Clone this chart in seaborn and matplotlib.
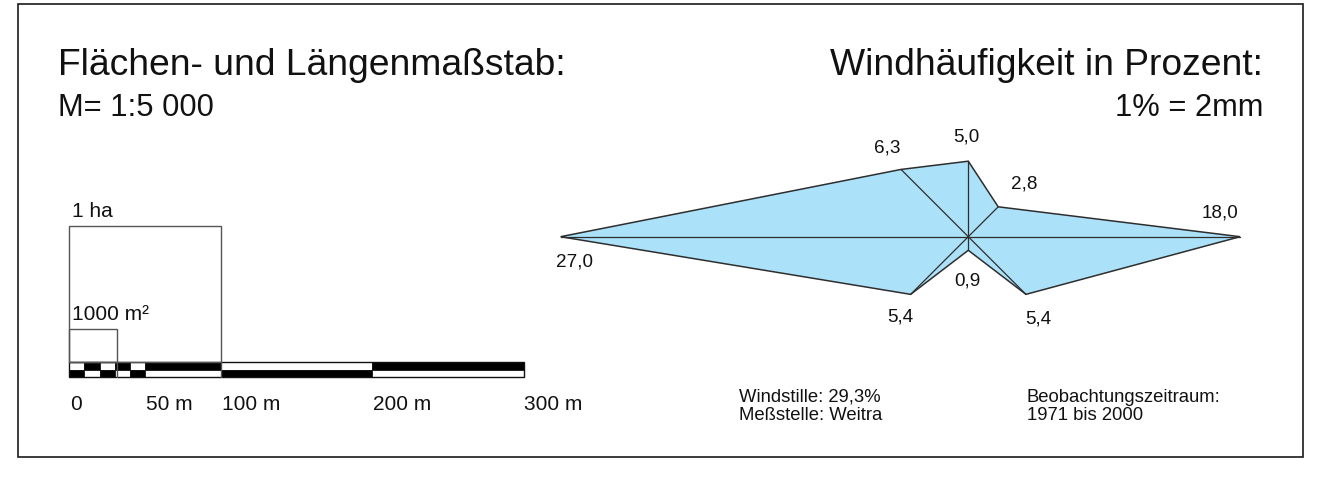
import numpy as np
import matplotlib
matplotlib.use("Agg")
import matplotlib.pyplot as plt
from matplotlib.patches import Rectangle, Polygon
import seaborn as sns
import pandas as pd

# ---------------- data ----------------
title_left = "Flächen- und Längenmaßstab:"
subtitle_left = "M= 1:5 000"
title_right = "Windhäufigkeit in Prozent:"
subtitle_right = "1% = 2mm"

# wind rose: direction (degrees, math convention) and frequency in %
wind_dirs = ["N", "NE", "E", "SE", "S", "SW", "W", "NW"]
wind_angles = [90, 45, 0, -45, -90, -135, 180, 135]
wind_values = [5.0, 2.8, 18.0, 5.4, 0.9, 5.4, 27.0, 6.3]

# scale bar (metres)
bar_edges = [0, 10, 20, 30, 40, 50, 100, 200, 300]
bar_tick_values = [0, 50, 100, 200, 300]
bar_tick_labels = ["0", "50 m", "100 m", "200 m", "300 m"]

# area boxes (width, height in metres as drawn), labels
box_labels = ["1 ha", "1000 m²"]
box_widths = [100, 31.6]
box_heights = [100, 24.3]

info_left = ["Windstille: 29,3%", "Meßstelle: Weitra"]
info_right = ["Beobachtungszeitraum:", "1971 bis 2000"]

# ---------------- style / layout ----------------
sns.set_theme(style="white")
plt.rcParams["font.family"] = ["Liberation Sans", "DejaVu Sans"]

W, H = 1337, 478
FILL = "#abe1f9"
EDGE = "#2e2e2e"
TXT = "#111111"

fig = plt.figure(figsize=(W / 100, H / 100), dpi=100)
fig.patch.set_facecolor("white")

# overlay axes in pixel coordinates
ax = fig.add_axes([0, 0, 1, 1])
ax.set_xlim(0, W)
ax.set_ylim(H, 0)
ax.axis("off")
ax.add_patch(Rectangle((17.7, 3.5), 1303.3 - 17.7, 456.7 - 3.5, fill=False,
                       edgecolor="#1a1a1a", lw=1.2))
ax.text(58, 75, title_left, fontsize=26.8, ha="left", va="baseline", color=TXT)
ax.text(58, 116, subtitle_left, fontsize=22.2, ha="left", va="baseline", color=TXT)
ax.text(1263, 75, title_right, fontsize=26.8, ha="right", va="baseline", color=TXT)
ax.text(1263, 116, subtitle_right, fontsize=22.2, ha="right", va="baseline", color=TXT)
for i, (a, b) in enumerate(zip(info_left, info_right)):
    ax.text(739, 402 + 18.5 * i, a, fontsize=13.3, ha="left", va="baseline", color=TXT)
    ax.text(1027, 402 + 18.5 * i, b, fontsize=13.3, ha="left", va="baseline", color=TXT)

# ---------------- wind rose ----------------
CX, CY, PX_PER_PCT = 968.3, 236.7, 15.1
axw = fig.add_axes([0, 0, 1, 1])
axw.set_xlim(-CX / PX_PER_PCT, (W - CX) / PX_PER_PCT)
axw.set_ylim((CY - H) / PX_PER_PCT, CY / PX_PER_PCT)
axw.axis("off")
axw.patch.set_alpha(0)

ang = np.deg2rad(wind_angles)
vals = np.array(wind_values)
df = pd.DataFrame({"dir": wind_dirs, "x": vals * np.cos(ang), "y": vals * np.sin(ang)})
axw.add_patch(Polygon(df[["x", "y"]].values, closed=True, facecolor=FILL,
                      edgecolor=EDGE, lw=1.1, zorder=1))
for _, r in df.iterrows():
    sns.lineplot(x=[0, r.x], y=[0, r.y], ax=axw, color=EDGE, lw=0.9,
                 sort=False, estimator=None, zorder=2)
label_offsets = [(-2, 24), (26, 23), (-20, 24), (12, -25), (-1, -31),
                 (-10, -23), (14, -25), (-14, 21)]
for (_, r), v, off in zip(df.iterrows(), wind_values, label_offsets):
    axw.annotate(f"{v:.1f}".replace(".", ","), xy=(r.x, r.y), xytext=off,
                 textcoords="offset pixels", ha="center", va="center",
                 fontsize=13.6, color=TXT)

# ---------------- scale bar ----------------
X0, Y0, PX_PER_M_X, PX_PER_M_Y = 69.3, 362.0, 1.514, 1.36
axs = fig.add_axes([0, 0, 1, 1])
axs.set_xlim(-X0 / PX_PER_M_X, (W - X0) / PX_PER_M_X)
axs.set_ylim((Y0 - H) / PX_PER_M_Y, Y0 / PX_PER_M_Y)
axs.axis("off")
axs.patch.set_alpha(0)

row_h = 7.6 / PX_PER_M_Y
lefts = np.array(bar_edges[:-1])
widths = np.diff(bar_edges)
top_cols = ["white" if i % 2 == 0 else "black" for i in range(len(widths))]
bot_cols = ["black" if i % 2 == 0 else "white" for i in range(len(widths))]
axs.barh(y=[-row_h / 2] * len(widths), width=widths, left=lefts, height=row_h,
         color=top_cols, edgecolor="#111", lw=0.6)
axs.barh(y=[-1.5 * row_h] * len(widths), width=widths, left=lefts, height=row_h,
         color=bot_cols, edgecolor="#111", lw=0.6)
axs.add_patch(Rectangle((0, -2 * row_h), bar_edges[-1], 2 * row_h, fill=False,
                        edgecolor="#111", lw=1.0))

for lab, bw, bh in zip(box_labels, box_widths, box_heights):
    axs.add_patch(Rectangle((0, 0), bw, bh, fill=False, edgecolor="#555", lw=1.0))
    axs.plot([bw, bw], [0, -2 * row_h], color="#555", lw=1.0)
    axs.annotate(lab, xy=(0, bh), xytext=(3, 14), textcoords="offset pixels",
                 ha="left", va="center", fontsize=15, color=TXT)

for v, lab in zip(bar_tick_values, bar_tick_labels):
    axs.annotate(lab, xy=(v, 0), xytext=(1, -42), textcoords="offset pixels",
                 ha="left", va="center", fontsize=15, color=TXT)

fig.savefig("out.png", dpi=100, facecolor="white")
